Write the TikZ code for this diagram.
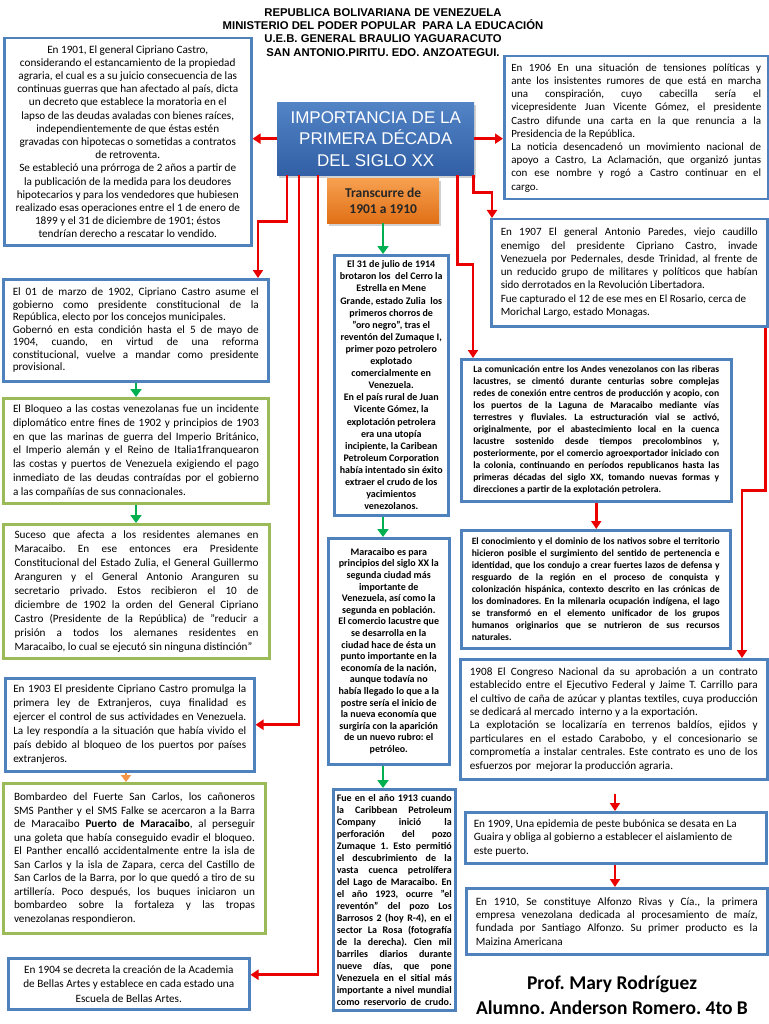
\documentclass[tikz,border=0pt]{standalone}
\usepackage{fontspec}
\setmainfont{Carlito}
\newfontfamily\hdrfont{Liberation Sans}
\usetikzlibrary{arrows.meta,shadows,calc}
\frenchspacing
\definecolor{bblue}{RGB}{79,129,189}
\definecolor{bgreen}{RGB}{155,187,89}
\definecolor{ared}{RGB}{235,0,0}
\definecolor{agreen}{RGB}{0,176,80}
\definecolor{aorange}{RGB}{247,150,70}
\definecolor{tblueA}{RGB}{82,132,198}
\definecolor{tblueB}{RGB}{50,95,165}
\definecolor{orA}{RGB}{247,160,80}
\definecolor{orB}{RGB}{224,112,22}
\newcommand{\myfs}[2]{\fontsize{#1}{#2}\selectfont}
\newcommand{\mytb}[2]{\vbox{\hsize=#1pt\relax#2}}
\newcommand{\jln}[1]{\hbox to\hsize{#1}}
\newcommand{\eln}[1]{\hbox to\hsize{#1\hfil}}
\newcommand{\cln}[1]{\hbox to\hsize{\hfil#1\hfil}}
\begin{document}
\begin{tikzpicture}[x=1pt,y=-1pt,
  bx/.style={draw=bblue,line width=2.5pt,fill=white,inner sep=0pt,anchor=north west},
  gx/.style={draw=bgreen,line width=3pt,fill=white,inner sep=0pt,anchor=north west},
  ra/.style={draw=ared,line width=2.7pt,-{Triangle[length=8pt,width=10pt]}},
  ga/.style={draw=agreen,line width=2.7pt,-{Triangle[length=8pt,width=11pt]}},
  oa/.style={draw=aorange,line width=2.7pt,-{Triangle[length=7pt,width=10pt]}},
  titlebox/.style={rectangle,top color=tblueA,bottom color=tblueB,draw=none,
    drop shadow={opacity=0.35,shadow xshift=1.5pt,shadow yshift=-2.5pt},
    text=white,align=center,inner sep=0pt,anchor=north west,
    font=\hdrfont\myfs{17}{21.5}},
  orbox/.style={rectangle,top color=orA,bottom color=orB,draw=none,
    drop shadow={opacity=0.35,shadow xshift=1.5pt,shadow yshift=-2.5pt},
    text=black!85,align=center,inner sep=0pt,anchor=north west,
    font=\bfseries\myfs{13.5}{16.5}}
]
\fill[white] (0,0) rectangle (768,1024);
\useasboundingbox (0,0) rectangle (768,1024);

% header
\node[font=\hdrfont\bfseries\myfs{11.3}{13.1},align=center] (hdr) at (383,32.5)
 {REPUBLICA BOLIVARIANA DE VENEZUELA\\MINISTERIO DEL PODER POPULAR \ PARA LA EDUCACIÓN\\U.E.B. GENERAL BRAULIO YAGUARACUTO\\SAN ANTONIO.PIRITU. EDO. ANZOATEGUI.};

% title
\node[titlebox,minimum width=197pt,minimum height=73pt] (title) at (277,102)
 {IMPORTANCIA DE LA\\PRIMERA DÉCADA\\DEL SIGLO XX};
\node[orbox,minimum width=112pt,minimum height=45pt] (trans) at (327,178)
 {Transcurre de\\1901 a 1910};

% left column
\node[bx,minimum width=247pt,minimum height=207pt,font=\myfs{11.2}{13.2}] (L1) at (3,37) {\mytb{236}{%
\cln{En 1901, El general Cipriano Castro,}
\cln{considerando el estancamiento de la propiedad}
\cln{agraria, el cual es a su juicio consecuencia de las}
\cln{continuas guerras que han afectado al país, dicta}
\cln{un decreto que establece la moratoria en el}
\cln{lapso de las deudas avaladas con bienes raíces,}
\cln{independientemente de que éstas estén}
\cln{gravadas con hipotecas o sometidas a contratos}
\cln{de retroventa.}
\cln{Se estableció una prórroga de 2 años a partir de}
\cln{la publicación de la medida para los deudores}
\cln{hipotecarios y para los vendedores que hubiesen}
\cln{realizado esas operaciones entre el 1 de enero de}
\cln{1899 y el 31 de diciembre de 1901; éstos}
\cln{tendrían derecho a rescatar lo vendido.}}};

\node[bx,minimum width=265pt,minimum height=102pt,font=\myfs{11.2}{12.5}] (L2) at (2,278) {\mytb{246}{%
\jln{El 01 de marzo de 1902, Cipriano Castro asume el}
\jln{gobierno como presidente constitucional de la}
\eln{República, electo por los concejos municipales.}
\jln{Gobernó en esta condición hasta el 5 de mayo de}
\jln{1904, cuando, en virtud de una reforma}
\jln{constitucional, vuelve a mandar como presidente}
\eln{provisional.}}};

\node[gx,minimum width=265pt,minimum height=105pt,font=\myfs{11.2}{13.8}] (L3) at (2,397) {\mytb{246}{%
\jln{El Bloqueo a las costas venezolanas fue un incidente}
\jln{diplomático entre fines de 1902 y principios de 1903}
\jln{en que las marinas de guerra del Imperio Británico,}
\jln{el Imperio alemán y el Reino de Italia1franquearon}
\jln{las costas y puertos de Venezuela exigiendo el pago}
\jln{inmediato de las deudas contraídas por el gobierno}
\eln{a las compañías de sus connacionales.}}};

\node[gx,minimum width=266pt,minimum height=134pt,font=\myfs{11.2}{14}] (L4) at (2,523) {\mytb{244}{%
\jln{Suceso que afecta a los residentes alemanes en}
\jln{Maracaibo. En ese entonces era Presidente}
\jln{Constitucional del Estado Zulia, el General Guillermo}
\jln{Aranguren y el General Antonio Aranguren su}
\jln{secretario privado. Estos recibieron el 10 de}
\jln{diciembre de 1902 la orden del General Cipriano}
\jln{Castro (Presidente de la República) de "reducir a}
\jln{prisión a todos los alemanes residentes en}
\eln{Maracaibo, lo cual se ejecutó sin ninguna distinción"}}};

\node[bx,minimum width=249pt,minimum height=93pt,font=\myfs{11.2}{13.9}] (L5) at (4,677) {\mytb{233}{%
\jln{En 1903 El presidente Cipriano Castro promulga la}
\jln{primera ley de Extranjeros, cuya finalidad es}
\jln{ejercer el control de sus actividades en Venezuela.}
\jln{La ley respondía a la situación que había vivido el}
\jln{país debido al bloqueo de los puertos por países}
\eln{extranjeros.}}};

\node[gx,minimum width=262pt,minimum height=150pt,font=\myfs{11.2}{13.5}] (L6) at (2,782) {\mytb{241}{%
\jln{Bombardeo del Fuerte San Carlos, los cañoneros}
\jln{SMS Panther y el SMS Falke se acercaron a la Barra}
\jln{de Maracaibo \textbf{Puerto de Maracaibo}, al perseguir}
\jln{una goleta que había conseguido evadir el bloqueo.}
\jln{El Panther encalló accidentalmente entre la isla de}
\jln{San Carlos y la isla de Zapara, cerca del Castillo de}
\jln{San Carlos de la Barra, por lo que quedó a tiro de su}
\jln{artillería. Poco después, los buques iniciaron un}
\jln{bombardeo sobre la fortaleza y las tropas}
\eln{venezolanas respondieron.}}};

\node[bx,minimum width=241pt,minimum height=51pt,font=\myfs{11.2}{14.5}] (L7) at (7,957) {\mytb{230}{%
\cln{En 1904 se decreta la creación de la Academia}
\cln{de Bellas Artes y establece en cada estado una}
\cln{Escuela de Bellas Artes.}}};

% centre column
\node[bx,minimum width=114pt,minimum height=260pt,font=\bfseries\myfs{10}{12.1}] (C1) at (333,254) {\mytb{110}{%
\cln{El 31 de julio de 1914}
\cln{brotaron los \ del Cerro la}
\cln{Estrella en Mene}
\cln{Grande, estado Zulia \ los}
\cln{primeros chorros de}
\cln{"oro negro", tras el}
\cln{reventón del Zumaque I,}
\cln{primer pozo petrolero}
\cln{explotado}
\cln{comercialmente en}
\cln{Venezuela.}
\cln{En el país rural de Juan}
\cln{Vicente Gómez, la}
\cln{explotación petrolera}
\cln{era una utopía}
\cln{incipiente, la Caribean}
\cln{Petroleum Corporation}
\cln{había intentado sin éxito}
\cln{extraer el crudo de los}
\cln{yacimientos}
\cln{venezolanos.}}};

\node[bx,minimum width=121pt,minimum height=226pt,font=\bfseries\myfs{10}{11.6}] (C2) at (327,537) {\mytb{112}{%
\cln{Maracaibo es para}
\cln{principios del siglo XX la}
\cln{segunda ciudad más}
\cln{importante de}
\cln{Venezuela, así como la}
\cln{segunda en población.}
\cln{El comercio lacustre que}
\cln{se desarrolla en la}
\cln{ciudad hace de ésta un}
\cln{punto importante en la}
\cln{economía de la nación,}
\cln{aunque todavía no}
\cln{había llegado lo que a la}
\cln{postre sería el inicio de}
\cln{la nueva economía que}
\cln{surgiría con la aparición}
\cln{de un nuevo rubro: el}
\cln{petróleo.}}};

\node[bx,minimum width=122pt,minimum height=221pt,font=\bfseries\myfs{10}{12}] (C3) at (332,788) {\mytb{115}{%
\jln{Fue en el año 1913 cuando}
\jln{la Caribbean Petroleum}
\jln{Company inició la}
\jln{perforación del pozo}
\jln{Zumaque 1. Esto permitió}
\jln{el descubrimiento de la}
\jln{vasta cuenca petrolífera}
\jln{del Lago de Maracaibo. En}
\jln{el año 1923, ocurre "el}
\jln{reventón" del pozo Los}
\jln{Barrosos 2 (hoy R-4), en el}
\jln{sector La Rosa (fotografía}
\jln{de la derecha). Cien mil}
\jln{barriles diarios durante}
\jln{nueve días, que pone}
\jln{Venezuela en el sitial más}
\jln{importante a nivel mundial}
\jln{como reservorio de crudo.}}};

% right column
\node[bx,minimum width=264pt,minimum height=143pt,font=\myfs{11}{13.2}] (R1) at (503,55) {\mytb{250}{%
\jln{En 1906 En una situación de tensiones políticas y}
\jln{ante los insistentes rumores de que está en marcha}
\jln{una conspiración, cuyo cabecilla sería el}
\jln{vicepresidente Juan Vicente Gómez, el presidente}
\jln{Castro difunde una carta en la que renuncia a la}
\eln{Presidencia de la República.}
\jln{La noticia desencadenó un movimiento nacional de}
\jln{apoyo a Castro, La Aclamación, que organizó juntas}
\jln{con ese nombre y rogó a Castro continuar en el}
\eln{cargo.}}};

\node[bx,minimum width=276pt,minimum height=107pt,font=\myfs{11.1}{13.3}] (R2) at (490,218) {\mytb{257}{%
\jln{En 1907 El general Antonio Paredes, viejo caudillo}
\jln{enemigo del presidente Cipriano Castro, invade}
\jln{Venezuela por Pedernales, desde Trinidad, al frente de}
\jln{un reducido grupo de militares y políticos que habían}
\eln{sido derrotados en la Revolución Libertadora.}
\eln{Fue capturado el 12 de ese mes en El Rosario, cerca de}
\eln{Morichal Largo, estado Monagas.}}};

\node[bx,minimum width=270pt,minimum height=142pt,font=\bfseries\myfs{9.6}{12}] (R3) at (460,358) {\mytb{246}{%
\jln{La comunicación entre los Andes venezolanos con las riberas}
\jln{lacustres, se cimentó durante centurias sobre complejas}
\jln{redes de conexión entre centros de producción y acopio, con}
\jln{los puertos de la Laguna de Maracaibo mediante vías}
\jln{terrestres y fluviales. La estructuración vial se activó,}
\jln{originalmente, por el abastecimiento local en la cuenca}
\jln{lacustre sostenido desde tiempos precolombinos y,}
\jln{posteriormente, por el comercio agroexportador iniciado con}
\jln{la colonia, continuando en períodos republicanos hasta las}
\jln{primeras décadas del siglo XX, tomando nuevas formas y}
\eln{direcciones a partir de la explotación petrolera.}}};

\node[bx,minimum width=269pt,minimum height=118pt,font=\bfseries\myfs{9.6}{12}] (R4) at (460,529) {\mytb{248}{%
\jln{El conocimiento y el dominio de los nativos sobre el territorio}
\jln{hicieron posible el surgimiento del sentido de pertenencia e}
\jln{identidad, que los condujo a crear fuertes lazos de defensa y}
\jln{resguardo de la región en el proceso de conquista y}
\jln{colonización hispánica, contexto descrito en las crónicas de}
\jln{los dominadores. En la milenaria ocupación indígena, el lago}
\jln{se transformó en el elemento unificador de los grupos}
\jln{humanos originarios que se nutrieron de sus recursos}
\eln{naturales.}}};

\node[bx,minimum width=307pt,minimum height=120pt,font=\myfs{11.2}{13.4}] (R5) at (459,658) {\mytb{288}{%
\jln{1908 El Congreso Nacional da su aprobación a un contrato}
\jln{establecido entre el Ejecutivo Federal y Jaime T. Carrillo para}
\jln{el cultivo de caña de azúcar y plantas textiles, cuya producción}
\eln{se dedicará al mercado \ interno y a la exportación.}
\jln{La explotación se localizaría en terrenos baldíos, ejidos y}
\jln{particulares en el estado Carabobo, y el concesionario se}
\jln{comprometía a instalar centrales. Este contrato es uno de los}
\eln{esfuerzos por \ mejorar la producción agraria.}}};

\node[bx,minimum width=301pt,minimum height=51pt,font=\myfs{11.2}{13.5}] (R6) at (464,811) {\mytb{284}{%
\eln{En 1909, Una epidemia de peste bubónica se desata en La}
\eln{Guaira y obliga al gobierno a establecer el aislamiento de}
\eln{este puerto.}}};

\node[bx,minimum width=301pt,minimum height=66pt,font=\myfs{11.2}{13.3}] (R7) at (465,887) {\mytb{282}{%
\jln{En 1910, Se constituye Alfonzo Rivas y Cía., la primera}
\jln{empresa venezolana dedicada al procesamiento de maíz,}
\jln{fundada por Santiago Alfonzo. Su primer producto es la}
\eln{Maizina Americana}}};

% footer
\node[font=\bfseries\myfs{19.5}{25},align=center] (foot) at (612,995)
 {Prof. Mary Rodríguez\\Alumno. Anderson Romero. 4to B};

% connectors
\coordinate (gxc) at (383,0);
\coordinate (lxc) at (136,0);
\coordinate (oxc) at (126,0);
\coordinate (k1) at (615,794);

\draw[ra] (title.west) -- (title.west -| L1.east);
\draw[ra] (title.east) -- (title.east -| R1.west);
\draw[ra] ([xshift=10pt]title.south west) -- ++(0,46) -| ([xshift=256pt]L2.north west);
\draw[ra] ([xshift=22pt]title.south west) |- (L5.east);
\draw[ra] ([xshift=41pt]title.south west) |- ([yshift=9pt]L7.east);
\draw[ra] ([xshift=-17pt]title.south east) -- ++(0,89) -| ([xshift=13pt]R3.north west);
\draw[ra] ([xshift=-1pt]title.south east) -- ++(0,17) -| ([xshift=2pt]R2.north west);
\draw[ra] (R3.south) -- (R3.south |- R4.north);
\draw[ra] ([xshift=-3pt]R2.south east) -- ++(0,163) -| ([xshift=283pt]R5.north west);
\draw[ra] (k1) -- (k1 |- R6.north);
\draw[ra] (k1 |- R6.south) -- (k1 |- R7.north);

\draw[ga] (trans.south -| gxc) -- (C1.north -| gxc);
\draw[ga] (C1.south -| gxc) -- (C2.north -| gxc);
\draw[ga] (C2.south -| gxc) -- (C3.north -| gxc);
\draw[ga] (L2.south -| lxc) -- (L3.north -| lxc);
\draw[ga] (L3.south -| lxc) -- (L4.north -| lxc);
\draw[oa] (L5.south -| oxc) -- (L6.north -| oxc);
\end{tikzpicture}
\end{document}
